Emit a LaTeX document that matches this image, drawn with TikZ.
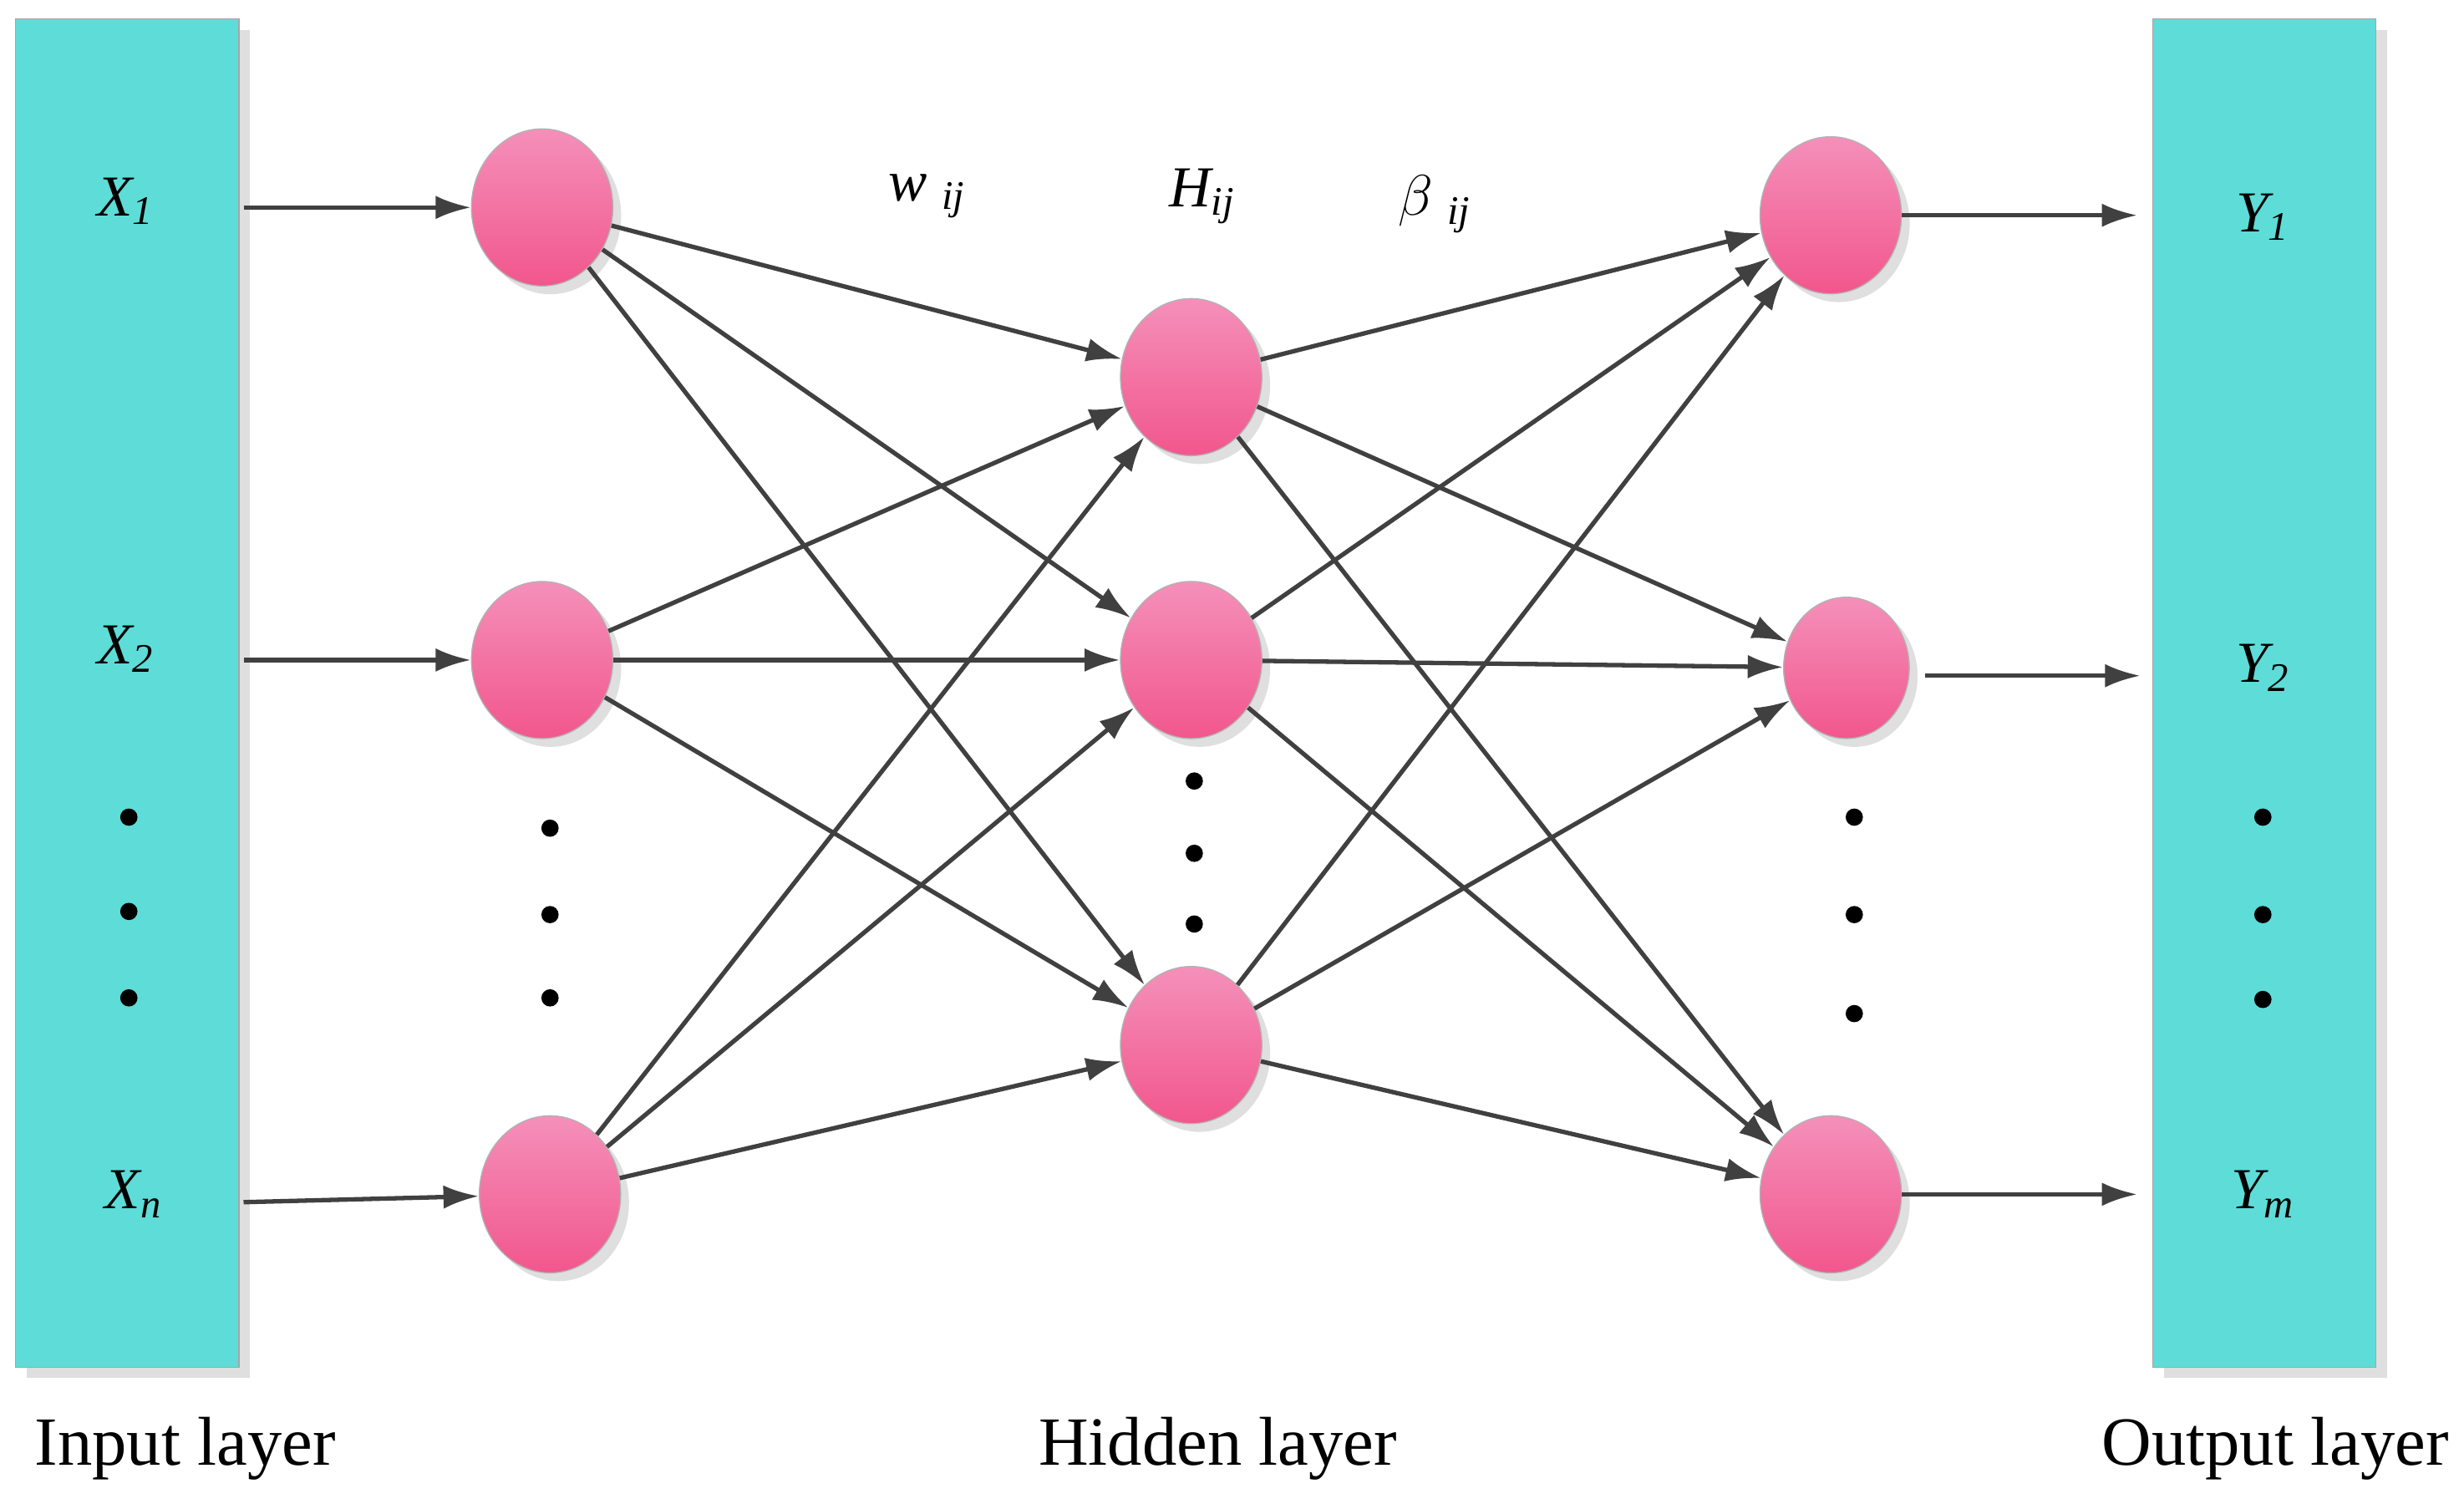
\documentclass[tikz,border=0pt]{standalone}
\usepackage{fontspec}
\setmainfont{Liberation Serif}
\usetikzlibrary{shadows,shapes.geometric,arrows.meta}
\definecolor{cy}{HTML}{5EDCD8}
\definecolor{pk}{HTML}{F0609C}
\begin{document}
\begin{tikzpicture}[x=0.02cm,y=-0.02cm,
 neu/.style={ellipse,draw=gray!60,top color=pk!70!white,bottom color=pk!90!red,minimum width=1.8cm,minimum height=2cm,inner sep=0pt,drop shadow={opacity=0.25,shadow xshift=3pt,shadow yshift=-3pt}},
 lay/.style={draw=gray!70,fill=cy,drop shadow={opacity=0.25,shadow xshift=4pt,shadow yshift=-4pt}},
 ar/.style={-{Latex[length=0.45cm,width=0.3cm]},line width=1.6pt,draw=black!75},
 lab/.style={font=\fontsize{21}{25}\selectfont\itshape},
 big/.style={font=\fontsize{25}{30}\selectfont},
 dot/.style={circle,fill=black,inner sep=0pt,minimum size=0.22cm}]
\useasboundingbox (0,0) rectangle (1568,960);
\fill[white] (0,0) rectangle (1568,960);
\draw[lay] (10,12) rectangle (152,870);
\draw[lay] (1370,12) rectangle (1512,870);
\node[neu] (i1) at (345,132) {};
\node[neu] (i2) at (345,420) {};
\node[neu] (i3) at (350,760) {};
\node[neu] (h1) at (758,240) {};
\node[neu] (h2) at (758,420) {};
\node[neu] (h3) at (758,665) {};
\node[neu] (o1) at (1165,137) {};
\node[neu,minimum width=1.6cm,minimum height=1.8cm] (o2) at (1175,425) {};
\node[neu] (o3) at (1165,760) {};
\coordinate (a1) at (155,132); \coordinate (a2) at (155,420); \coordinate (a3) at (155,765);
\coordinate (b1) at (1360,137); \coordinate (b2) at (1362,430); \coordinate (b3) at (1360,760);
\coordinate (c2) at (1225,430);
\draw[ar] (a1) -- (i1); \draw[ar] (a2) -- (i2); \draw[ar] (a3) -- (i3);
\draw[ar] (o1) -- (b1); \draw[ar] (c2) -- (b2); \draw[ar] (o3) -- (b3);
\foreach \a in {i1,i2,i3}{\foreach \b in {h1,h2,h3}{\draw[ar] (\a) -- (\b);}}
\foreach \a in {h1,h2,h3}{\foreach \b in {o1,o2,o3}{\draw[ar] (\a) -- (\b);}}
\node[lab] (x1) at (80,128) {X\textsubscript{1}};
\node[lab] (x2) at (80,413) {X\textsubscript{2}};
\node[lab] (xn) at (85,760) {X\textsubscript{n}};
\node[lab] (y1) at (1440,138) {Y\textsubscript{1}};
\node[lab] (y2) at (1440,425) {Y\textsubscript{2}};
\node[lab] (ym) at (1440,760) {Y\textsubscript{m}};
\node[lab] (w) at (590,125) {w \textsubscript{ij}};
\node[lab] (hh) at (765,125) {H\textsubscript{ij}};
\node[lab] (be) at (913,130) {$\beta$ \textsubscript{ij}};
\foreach \y [count=\k] in {520,580,635}{\node[dot] (d1\k) at (82,\y) {};}
\foreach \y [count=\k] in {527,582,635}{\node[dot] (d2\k) at (350,\y) {};}
\foreach \y [count=\k] in {497,543,588}{\node[dot] (d3\k) at (760,\y) {};}
\foreach \y [count=\k] in {520,582,645}{\node[dot] (d4\k) at (1180,\y) {};}
\foreach \y [count=\k] in {520,582,636}{\node[dot] (d5\k) at (1440,\y) {};}
\node[big] (l1) at (118,922) {Input layer};
\node[big] (l2) at (775,922) {Hidden layer};
\node[big] (l3) at (1448,922) {Output layer};
\end{tikzpicture}
\end{document}
